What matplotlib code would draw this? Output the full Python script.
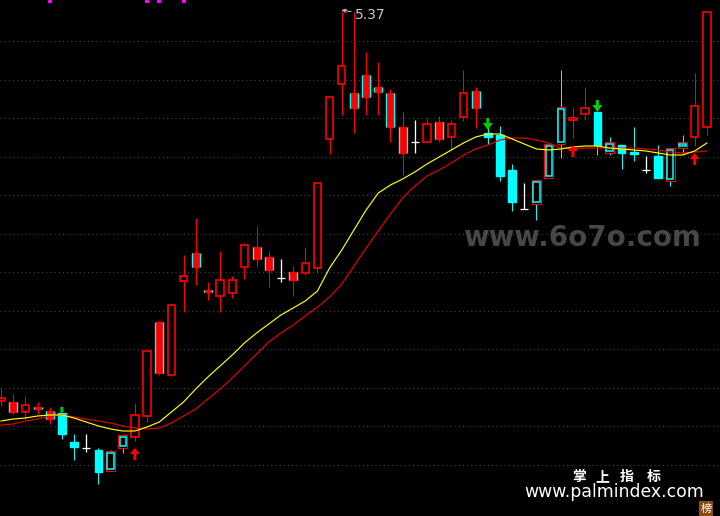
import matplotlib
matplotlib.use('Agg')
import matplotlib.pyplot as plt
from matplotlib.patches import Rectangle, FancyArrow

# ---------------- data ----------------
# candle style: R hollow red, F red filled (cyan sides), C cyan filled,
# H hollow cyan (red rim), W white doji cross
styles = ['R', 'F', 'R', 'F', 'F', 'C', 'C', 'W', 'C', 'H',
          'H', 'R', 'R', 'F', 'R', 'R', 'F', 'F', 'R', 'R',
          'R', 'F', 'F', 'W', 'F', 'R', 'R', 'R', 'R', 'F',
          'F', 'F', 'F', 'F', 'W', 'R', 'F', 'R', 'R', 'F',
          'C', 'C', 'C', 'W', 'H', 'H', 'H', 'R', 'R', 'C',
          'H', 'C', 'C', 'W', 'C', 'H', 'H', 'R', 'R']
opens = [1.46, 1.35, 1.35, 1.38, 1.28, 1.34, 1.05, 0.99, 0.97, 0.95,
         1.11, 1.10, 1.31, 1.74, 1.72, 2.66, 2.80, 2.55, 2.51, 2.54,
         2.80, 2.88, 2.77, 2.69, 2.67, 2.74, 2.79, 4.08, 4.63, 4.39,
         4.50, 4.55, 4.20, 3.94, 4.05, 4.05, 4.08, 4.10, 4.30, 4.39,
         4.14, 4.12, 3.77, 3.38, 3.66, 4.02, 4.39, 4.27, 4.33, 4.35,
         4.04, 4.02, 3.94, 3.77, 3.91, 3.98, 4.04, 4.10, 4.20]
closes = [1.49, 1.45, 1.42, 1.40, 1.36, 1.13, 1.00, 0.99, 0.75, 0.77,
          1.00, 1.32, 1.96, 2.25, 2.42, 2.71, 2.94, 2.57, 2.67, 2.67,
          3.02, 3.00, 2.90, 2.69, 2.75, 2.84, 3.64, 4.50, 4.81, 4.54,
          4.72, 4.60, 4.54, 4.20, 4.05, 4.23, 4.25, 4.23, 4.54, 4.56,
          4.10, 3.71, 3.45, 3.38, 3.44, 3.70, 4.04, 4.29, 4.39, 4.02,
          3.95, 3.94, 3.93, 3.77, 3.69, 3.67, 4.00, 4.41, 5.35]
highs = [1.59, 1.53, 1.51, 1.45, 1.40, 1.34, 1.13, 1.13, 0.99, 0.97,
         1.11, 1.44, 1.96, 2.25, 2.42, 2.92, 3.29, 2.65, 2.96, 2.71,
         3.04, 3.21, 2.96, 2.88, 2.81, 3.00, 3.64, 4.50, 5.37, 5.35,
         4.95, 4.85, 4.58, 4.35, 4.27, 4.29, 4.31, 4.27, 4.77, 4.60,
         4.21, 4.21, 3.83, 3.64, 3.67, 4.02, 4.77, 4.39, 4.60, 4.35,
         4.10, 4.02, 4.20, 3.91, 4.02, 3.99, 4.12, 4.74, 5.35]
lows = [1.41, 1.33, 1.28, 1.33, 1.23, 1.08, 0.87, 0.95, 0.63, 0.77,
        0.94, 1.06, 1.25, 1.72, 1.72, 2.35, 2.62, 2.47, 2.35, 2.49,
        2.68, 2.80, 2.60, 2.65, 2.51, 2.72, 2.74, 3.93, 4.32, 4.14,
        4.32, 4.32, 4.05, 3.72, 3.94, 4.05, 4.05, 3.97, 4.26, 4.19,
        4.03, 3.66, 3.36, 3.38, 3.27, 3.70, 3.89, 4.09, 4.27, 3.92,
        3.92, 3.78, 3.86, 3.74, 3.69, 3.61, 3.94, 4.01, 4.12]
ma_fast = [1.26, 1.28, 1.29, 1.31, 1.32, 1.32, 1.29, 1.25, 1.21, 1.18,
           1.16, 1.16, 1.20, 1.25, 1.35, 1.45, 1.58, 1.70, 1.81, 1.92,
           2.04, 2.14, 2.23, 2.32, 2.39, 2.46, 2.56, 2.79, 2.97, 3.17,
           3.37, 3.54, 3.62, 3.68, 3.75, 3.83, 3.90, 3.97, 4.04, 4.10,
           4.13, 4.13, 4.08, 4.03, 3.98, 3.97, 3.98, 4.00, 4.01, 4.01,
           3.99, 3.98, 3.97, 3.96, 3.94, 3.92, 3.92, 3.96, 4.04]
ma_slow = [1.22, 1.23, 1.26, 1.28, 1.31, 1.32, 1.30, 1.28, 1.26, 1.24,
           1.21, 1.19, 1.18, 1.19, 1.24, 1.31, 1.38, 1.48, 1.58, 1.69,
           1.81, 1.93, 2.05, 2.14, 2.22, 2.31, 2.40, 2.50, 2.63, 2.81,
           2.99, 3.16, 3.33, 3.49, 3.61, 3.71, 3.77, 3.84, 3.92, 3.98,
           4.02, 4.07, 4.09, 4.09, 4.07, 4.04, 3.99, 3.98, 3.99, 3.99,
           3.99, 3.99, 3.99, 3.98, 3.97, 3.95, 3.94, 3.95, 3.96]
buy_idx = [11, 47, 57]
buy_tip = [0.99, 4.02, 3.94]
sell_idx = [5, 40, 49]
sell_tip = [1.34, 4.17, 4.35]
top_mark_idx = [4, 12, 13, 15]
grid_levels = [5.06, 4.675, 4.29, 3.905, 3.52, 3.135, 2.75, 2.365, 1.98,
               1.595, 1.21, 0.825]
brand_chars = ['掌', '上', '指', '标']

# ---------------- figure ----------------
W, H = 720, 516
fig = plt.figure(figsize=(W / 100, H / 100), dpi=100, facecolor='black')
ax = fig.add_axes([0, 0, 1, 1])
ax.set_facecolor('black')
PX = 12.17          # pixels per candle slot
X0 = 1.0            # pixel position of first candle
YPX = 0.01          # price units per pixel
YTOP = 5.47
ax.set_xlim(-X0 / PX, (W - X0) / PX)
ax.set_ylim(YTOP - H * YPX, YTOP)
ax.axis('off')

RED = '#ff0000'
CYAN = '#00ffff'
px = 1 / PX          # one pixel in x units
lw1 = 0.72           # one pixel line width in points

for g in grid_levels:
    ax.axhline(g, color='#4a4a4a', lw=0.75, ls=(0, (1, 3)), zorder=1)

# watermark
fig.text(463 / W, 1 - 238 / H, 'www.6o7o.com', color='#474747', fontsize=20,
         fontweight='bold', family='DejaVu Sans', ha='left', va='center',
         zorder=2)

bw = 7.4 * px
for i, (s, o, c, h, l) in enumerate(zip(styles, opens, closes, highs, lows)):
    top, bot = max(o, c), min(o, c)
    if s == 'W':
        ax.plot([i, i], [l, h], color='white', lw=lw1 * 1.3, zorder=3,
                solid_capstyle='butt')
        ax.plot([i - 4 * px, i + 4 * px], [c, c], color='white',
                lw=lw1 * 1.3, zorder=3, solid_capstyle='butt')
        continue
    wick_col = RED if s in ('R', 'F') else CYAN
    ax.plot([i, i], [l, h], color=wick_col, lw=lw1, zorder=3,
            solid_capstyle='butt')
    hgt = max(top - bot, 0.02)
    if s == 'R':
        ax.add_patch(Rectangle((i - bw / 2, bot), bw, hgt, facecolor='black',
                               edgecolor=RED, lw=1.2, zorder=4))
    elif s == 'F':
        ax.add_patch(Rectangle((i - bw / 2, bot), bw, hgt, facecolor=RED,
                               edgecolor=RED, lw=1.0, zorder=4))
        for side in (-1, 1):
            ax.plot([i + side * (bw / 2 + 0.3 * px)] * 2, [bot, bot + hgt],
                    color=CYAN, lw=lw1 * 1.3, zorder=5,
                    solid_capstyle='butt')
    elif s == 'C':
        ax.add_patch(Rectangle((i - bw / 2, bot), bw, hgt, facecolor=CYAN,
                               edgecolor=CYAN, lw=1.0, zorder=4))
    elif s == 'H':
        ax.add_patch(Rectangle((i - bw / 2 - 0.6 * px, bot - 0.006),
                               bw + 1.2 * px, hgt + 0.012, facecolor='black',
                               edgecolor=RED, lw=lw1, zorder=4))
        ax.add_patch(Rectangle((i - bw / 2 + 0.6 * px, bot + 0.006),
                               bw - 1.2 * px, hgt - 0.012, facecolor='none',
                               edgecolor=CYAN, lw=1.1, zorder=5))

xs = list(range(len(ma_fast)))
ax.plot(xs, ma_slow, color='#e80000', lw=0.85, zorder=6)
ax.plot(xs, ma_fast, color='#ffff00', lw=0.85, zorder=6)

# buy / sell arrows
for i, t in zip(buy_idx, buy_tip):
    ax.add_patch(FancyArrow(i, t - 12 * YPX, 0, 12 * YPX, width=3 * px,
                            head_width=10 * px, head_length=6 * YPX,
                            length_includes_head=True, color=RED, lw=0,
                            zorder=7))
for k, (i, t) in enumerate(zip(sell_idx, sell_tip)):
    L = 6 if k == 0 else 12
    ax.add_patch(FancyArrow(i, t + L * YPX, 0, -L * YPX, width=3 * px,
                            head_width=(4 if k == 0 else 10) * px,
                            head_length=(2 if k == 0 else 7) * YPX,
                            length_includes_head=True, color='#00d000', lw=0,
                            zorder=7))

# magenta marks at the top edge
ax.plot(top_mark_idx, [YTOP - 1 * YPX] * len(top_mark_idx), ls='none',
        marker='s', ms=2.3, color='#ff00ff', mew=0, clip_on=False, zorder=8)

# max high label
imax = max(range(len(highs)), key=lambda k: highs[k])
ax.annotate(f'{highs[imax]:.2f}', xy=(imax, highs[imax]),
            xytext=(imax + 13.5 * px, highs[imax] - 5 * YPX),
            color='#c8c8c8', fontsize=10, va='center', ha='left',
            arrowprops=dict(arrowstyle='->', color='#c8c8c8', lw=0.7,
                            shrinkA=1, shrinkB=0, mutation_scale=6),
            zorder=9)

# bottom-right branding
for ch, cx in zip(brand_chars, [579, 602, 627, 654]):
    fig.text(cx / W, 1 - 477 / H, ch, color='white', fontsize=10,
             fontweight='bold', family=['Noto Sans CJK SC', 'DejaVu Sans'],
             ha='center', va='center')
fig.text(614 / W, 1 - 492 / H, 'www.palmindex.com', color='white',
         fontsize=12.4, family='DejaVu Sans', ha='center', va='center')
fig.patches.append(Rectangle((699 / W, 0), 14 / W, 15 / H,
                             transform=fig.transFigure, facecolor='#8a4a12',
                             edgecolor='none'))
fig.text(706 / W, 7.5 / H, '榜', color='white', fontsize=8,
         family=['Noto Sans CJK SC', 'DejaVu Sans'], ha='center',
         va='center')

fig.savefig('out.png', dpi=100, facecolor='black')
